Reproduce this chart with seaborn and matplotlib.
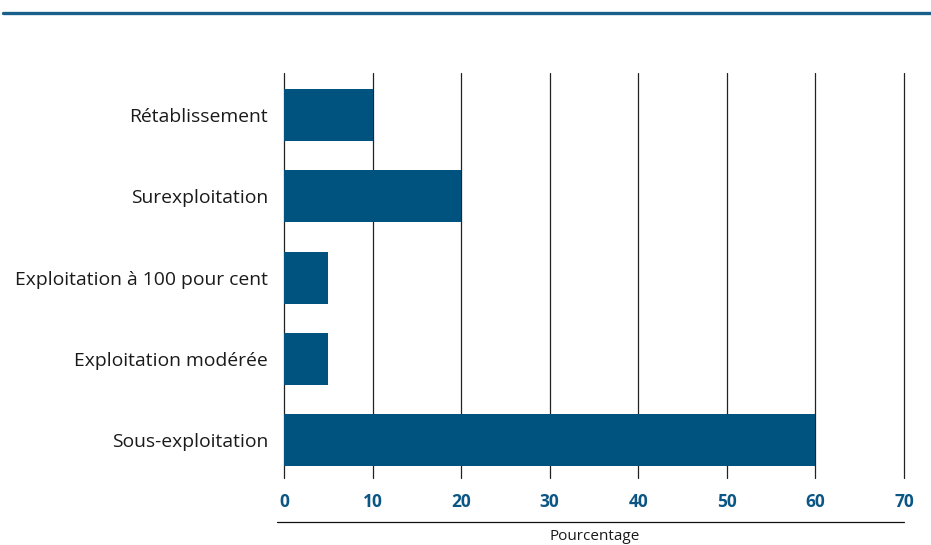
import matplotlib
matplotlib.use("Agg")
import matplotlib.pyplot as plt
from matplotlib.lines import Line2D
import seaborn as sns
import pandas as pd

categories = ["Rétablissement", "Surexploitation", "Exploitation à 100 pour cent",
              "Exploitation modérée", "Sous-exploitation"]
values = [10, 20, 5, 5, 60]
x_ticks = [0, 10, 20, 30, 40, 50, 60, 70]
x_label = "Pourcentage"

bar_color = "#00527f"
tick_color = "#0b5685"

sns.set_theme(style="white")
plt.rcParams["font.family"] = ["Open Sans", "DejaVu Sans"]

df = pd.DataFrame({"cat": categories, "val": values})

W, H = 931, 545
fig = plt.figure(figsize=(W / 100, H / 100), dpi=100)
ax = fig.add_axes([284 / W, 1 - 478 / H, (904 - 284) / W, (478 - 73) / H])

sns.barplot(data=df, x="val", y="cat", order=categories, color=bar_color,
            width=0.64, saturation=1, linewidth=0, ax=ax, zorder=3)

ax.set_xlim(0, 70)
ax.set_ylim(4.47, -0.52)
ax.set_xticks(x_ticks)
ax.set_xticklabels([str(t) for t in x_ticks], fontsize=12.5, fontweight="bold",
                   color=tick_color)
ax.tick_params(axis="x", length=0, pad=11)
ax.tick_params(axis="y", length=0, pad=11.5, labelcolor="#1a1a1a")
for lab in ax.get_yticklabels():
    lab.set_fontsize(13.9)
ax.set_xlabel("")
ax.set_ylabel("")
for s in ax.spines.values():
    s.set_visible(False)
ax.grid(False)
for t in x_ticks:
    ax.axvline(t, color="#222222", lw=0.9, zorder=1, clip_on=False)

# header rule
fig.add_artist(Line2D([3 / W, 1.0], [1 - 13 / H, 1 - 13 / H], color="#1a5f8a", lw=2.4))
# axis title rule and text
fig.add_artist(Line2D([277 / W, 904 / W], [1 - 522 / H, 1 - 522 / H], color="#111111", lw=0.9))
fig.text(595 / W, 1 - 537 / H, x_label, ha="center", va="center", fontsize=11, color="#1a1a1a")

fig.savefig("out.png", dpi=100)
